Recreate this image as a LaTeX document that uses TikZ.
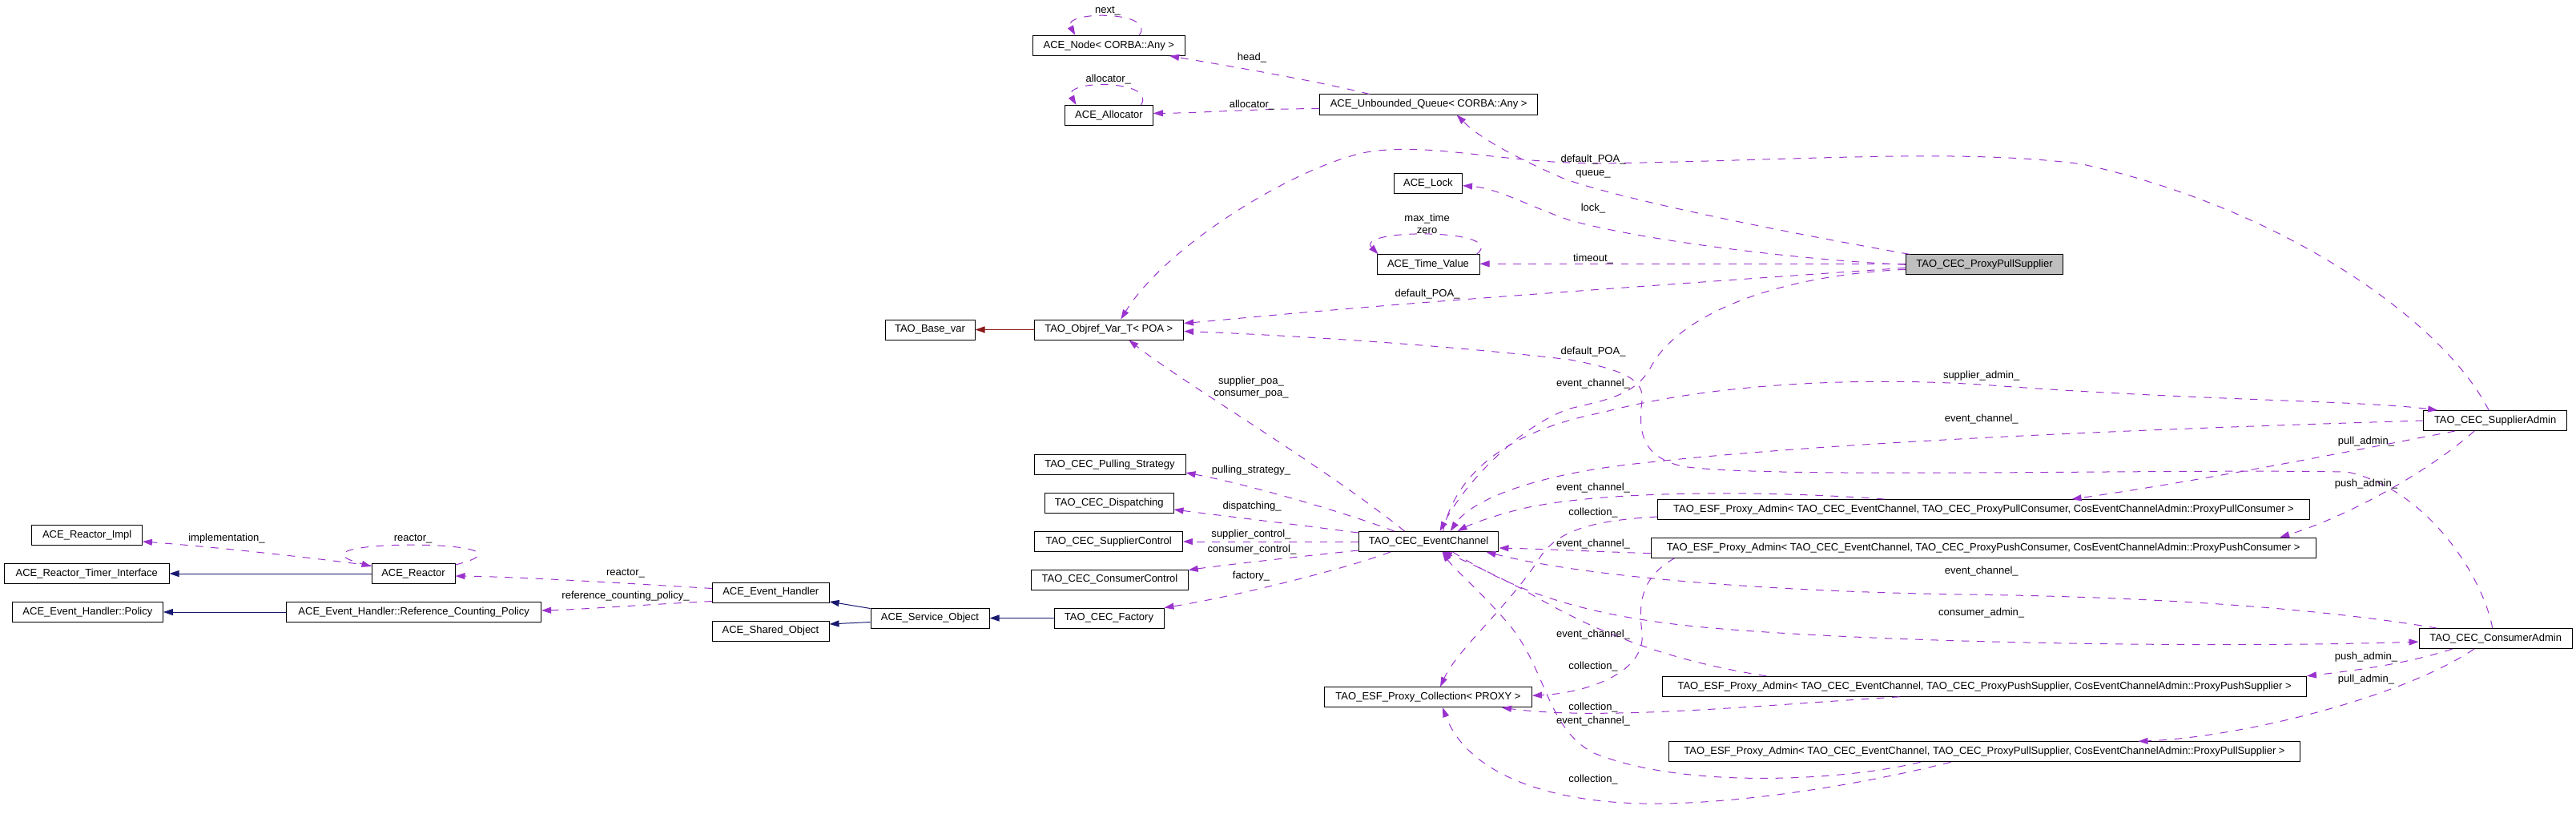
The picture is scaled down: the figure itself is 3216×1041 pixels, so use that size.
\documentclass[tikz,border=0pt]{standalone}
\usepackage{fontspec}
\setmainfont{Liberation Sans}
\usetikzlibrary{arrows.meta,calc}
\definecolor{usecol}{HTML}{9A32CD}
\definecolor{inhcol}{HTML}{191970}
\definecolor{tplcol}{HTML}{8B1A1A}
\definecolor{grayfill}{HTML}{BFBFBF}
\newcommand{\lblfont}{\fontsize{9.25pt}{10.7pt}\selectfont}
\begin{document}
\begin{tikzpicture}[x=0.25mm,y=-0.25mm,
 box/.style={draw=black,line width=0.25mm,minimum height=6.25mm,inner sep=0pt,text height=2.35mm,text depth=0.65mm,font=\lblfont},
 bw/.style={minimum width=#1*0.25mm},
 lab/.style={inner sep=0pt,text height=2.35mm,text depth=0.65mm,font=\lblfont},
 lab2/.style={inner sep=0pt,align=center,font=\lblfont},
 usage/.style={draw=usecol,line width=0.25mm,dash pattern=on 2.4mm off 2.4mm,-{Triangle[length=3mm,width=2mm]}},
 inh/.style={draw=inhcol,line width=0.25mm,-{Triangle[length=3mm,width=2mm]}},
 tpl/.style={draw=tplcol,line width=0.25mm,-{Triangle[length=3mm,width=2mm]}}]
\useasboundingbox (0,0) rectangle (3216,1041);
% nodes
\node[box,bw=190.6] (anynode) at (1384.3,56.8) {ACE\_Node< CORBA::Any >};
\node[box,bw=109.7] (alloc) at (1384.5,143.9) {ACE\_Allocator};
\node[box,bw=272.5] (queue) at (1783.7,130.5) {ACE\_Unbounded\_Queue< CORBA::Any >};
\node[box,bw=85.5] (lock) at (1782.8,228.7) {ACE\_Lock};
\node[box,bw=128] (tv) at (1783,330.3) {ACE\_Time\_Value};
\node[box,bw=196.5,fill=grayfill] (pps) at (2477.5,330.3) {TAO\_CEC\_ProxyPullSupplier};
\node[box,bw=112] (basevar) at (1161,411.5) {TAO\_Base\_var};
\node[box,bw=186.6] (objref) at (1384.3,411.5) {TAO\_Objref\_Var\_T< POA >};
\node[box,bw=189] (pull) at (1385.5,580) {TAO\_CEC\_Pulling\_Strategy};
\node[box,bw=160.4] (disp) at (1384.8,628) {TAO\_CEC\_Dispatching};
\node[box,bw=184.5] (sctl) at (1384.2,676) {TAO\_CEC\_SupplierControl};
\node[box,bw=195.5] (cctl) at (1385.5,723.5) {TAO\_CEC\_ConsumerControl};
\node[box,bw=174.7] (ec) at (1783.6,676) {TAO\_CEC\_EventChannel};
\node[box,bw=137] (fac) at (1384.5,771.5) {TAO\_CEC\_Factory};
\node[box,bw=148] (so) at (1161,771.5) {ACE\_Service\_Object};
\node[box,bw=145.5] (eh) at (962.3,739.5) {ACE\_Event\_Handler};
\node[box,bw=146] (sho) at (962,787.5) {ACE\_Shared\_Object};
\node[box,bw=317.8] (rcp) at (516.7,764) {ACE\_Event\_Handler::Reference\_Counting\_Policy};
\node[box,bw=188] (policy) at (109.4,764) {ACE\_Event\_Handler::Policy};
\node[box,bw=104] (reactor) at (516,716) {ACE\_Reactor};
\node[box,bw=205.4] (rti) at (108.3,716) {ACE\_Reactor\_Timer\_Interface};
\node[box,bw=137.5] (rimpl) at (108.7,668) {ACE\_Reactor\_Impl};
\node[box,bw=258.9] (coll) at (1783,870.2) {TAO\_ESF\_Proxy\_Collection< PROXY >};
\node[box,bw=814.2] (apc) at (2476.5,636) {TAO\_ESF\_Proxy\_Admin< TAO\_CEC\_EventChannel, TAO\_CEC\_ProxyPullConsumer, CosEventChannelAdmin::ProxyPullConsumer >};
\node[box,bw=830.3] (aphc) at (2476.2,683.7) {TAO\_ESF\_Proxy\_Admin< TAO\_CEC\_EventChannel, TAO\_CEC\_ProxyPushConsumer, CosEventChannelAdmin::ProxyPushConsumer >};
\node[box,bw=803.7] (aps) at (2477.6,856.8) {TAO\_ESF\_Proxy\_Admin< TAO\_CEC\_EventChannel, TAO\_CEC\_ProxyPushSupplier, CosEventChannelAdmin::ProxyPushSupplier >};
\node[box,bw=788.3] (apls) at (2477.5,938.3) {TAO\_ESF\_Proxy\_Admin< TAO\_CEC\_EventChannel, TAO\_CEC\_ProxyPullSupplier, CosEventChannelAdmin::ProxyPullSupplier >};
\node[box,bw=179] (sa) at (3115.1,525) {TAO\_CEC\_SupplierAdmin};
\node[box,bw=191.4] (ca) at (3115.7,797.1) {TAO\_CEC\_ConsumerAdmin};
% self loops
\draw[usage] ($(anynode.north)+(38,0)$) .. controls (1445,13) and (1325,13) .. ($(anynode.north)+(-42,0)$);
\draw[usage] ($(alloc.north)+(40,0)$) .. controls (1445,99) and (1325,99) .. ($(alloc.north)+(-41,0)$);
\draw[usage] ($(tv.north east)+(-4,0)$) .. controls (1885,285) and (1690,285) .. ($(tv.north west)+(2,0)$);
\draw[usage] ($(reactor.north east)+(0,2)$) .. controls (700,672) and (335,672) .. ($(reactor.north west)+(0,4)$);
% queue
\draw[usage] ($(queue.north)+(-74,0)$) .. controls (1640,100) and (1520,80) .. ($(anynode.south east)+(-20,0)$);
\draw[usage] ($(queue.west)+(0,5)$) .. controls (1560,136) and (1500,141) .. ($(alloc.east)+(0,-2.5)$);
% proxy pull supplier
\draw[usage] ($(pps.north west)+(5,0)$) .. controls (2200,285) and (2010,245) .. (1950,222) .. controls (1900,200) and (1850,175) .. ($(queue.south)+(35,0)$);
\draw[usage] (pps.west) .. controls (2250,325) and (2050,300) .. (1960,275) .. controls (1910,258) and (1870,235) .. ($(lock.east)+(0,3)$);
\draw[usage] ($(pps.west)+(0,-1)$) -- ($(tv.east)+(0,-1)$);
\draw[usage] ($(pps.west)+(0,4)$) .. controls (2150,350) and (1800,375) .. (1700,384) .. controls (1600,392) and (1520,400) .. ($(objref.east)+(0,-8)$);
\draw[usage] ($(pps.west)+(0,6)$) .. controls (2200,345) and (2090,400) .. (2060,460) .. controls (2040,495) and (2000,500) .. (1960,510) .. controls (1900,530) and (1830,600) .. ($(ec.north)+(14,0)$);
% default_POA_ arcs
\draw[usage] ($(sa.north)+(-8,0)$) .. controls (3050,400) and (2850,260) .. (2600,205) .. controls (2450,185) and (2250,200) .. (2000,204) .. controls (1880,204) and (1800,180) .. (1720,188) .. controls (1640,195) and (1460,300) .. ($(objref.north)+(15,0)$);
\draw[usage] ($(ca.north)+(-4,0)$) .. controls (3100,720) and (3030,610) .. (2930,589) .. controls (2700,585) and (2200,598) .. (2100,582) .. controls (2050,570) and (2045,540) .. (2050,500) .. controls (2053,475) and (2030,462) .. (1960,449) .. controls (1800,430) and (1600,418) .. ($(objref.east)+(0,2)$);
% event channel
\draw[usage] ($(ec.north)+(-30,0)$) .. controls (1650,580) and (1480,480) .. ($(objref.south)+(25,0)$);
\draw[tpl] (objref.west) -- (basevar.east);
\draw[usage] ($(ec.north west)+(45,0)$) .. controls (1680,640) and (1560,605) .. ($(pull.east)+(0,10)$);
\draw[usage] ($(ec.north west)+(0,2)$) .. controls (1620,655) and (1520,643) .. ($(disp.east)+(0,8)$);
\draw[usage] (ec.west) -- (sctl.east);
\draw[usage] ($(ec.south west)+(0,-2)$) .. controls (1620,695) and (1530,705) .. ($(cctl.east)+(0,-12)$);
\draw[usage] ($(ec.south west)+(40,0)$) .. controls (1680,710) and (1540,745) .. (fac.north east);
% inheritance
\draw[inh] (fac.west) -- (so.east);
\draw[inh] ($(so.north west)+(0,1)$) -- ($(eh.east)+(0,11.5)$);
\draw[inh] ($(so.west)+(0,5)$) -- ($(sho.east)+(0,-8.5)$);
\draw[inh] (reactor.west) -- (rti.east);
\draw[inh] (rcp.west) -- (policy.east);
% event handler
\draw[usage] ($(eh.west)+(0,-5)$) .. controls (780,728) and (650,720) .. ($(reactor.east)+(0,3)$);
\draw[usage] ($(eh.west)+(0,11)$) .. controls (800,755) and (720,761) .. ($(rcp.east)+(0,-2)$);
\draw[usage] ($(reactor.north west)+(0,3)$) .. controls (380,695) and (260,682) .. ($(rimpl.east)+(0,8)$);
% admins
\draw[usage] ($(ec.north)+(18,0)$) .. controls (1815,600) and (1870,540) .. (2000,515) .. controls (2150,475) and (2350,470) .. (2500,482) .. controls (2750,500) and (2950,500) .. ($(sa.north west)+(18,0)$);
\draw[usage] (sa.west) .. controls (2700,535) and (2300,550) .. (2050,578) .. controls (1930,590) and (1840,620) .. ($(ec.north)+(27,0)$);
\draw[usage] ($(apc.north)+(-124,0)$) .. controls (2200,612) and (2000,612) .. (1900,635) .. controls (1860,645) and (1835,655) .. ($(ec.north)+(36,0)$);
\draw[usage] ($(sa.south west)+(40,0)$) .. controls (2950,560) and (2750,600) .. ($(apc.north)+(110,0)$);
\draw[usage] ($(sa.south)+(-26,0)$) .. controls (3030,590) and (2930,645) .. ($(aphc.north)+(370,0)$);
\draw[usage] ($(apc.west)+(0,9)$) .. controls (1980,650) and (1940,665) .. (1920,700) .. controls (1880,760) and (1820,810) .. ($(coll.north)+(15,0)$);
\draw[usage] ($(aphc.west)+(0,7)$) .. controls (1980,688) and (1920,685) .. ($(ec.east)+(0,8)$);
\draw[usage] ($(aphc.south west)+(30,0)$) .. controls (2050,720) and (2045,750) .. (2050,790) .. controls (2055,840) and (1980,865) .. ($(coll.east)+(0,-2)$);
\draw[usage] ($(ca.north west)+(23,0)$) .. controls (2900,760) and (2700,745) .. (2450,742) .. controls (2200,738) and (1980,720) .. ($(ec.south east)+(-16,0)$);
\draw[usage] ($(ec.south)+(30,0)$) .. controls (1880,730) and (1960,770) .. (2150,785) .. controls (2400,805) and (2800,808) .. ($(ca.west)+(0,4)$);
\draw[usage] ($(ca.south west)+(42,0)$) .. controls (3000,830) and (2930,838) .. (aps.north east);
\draw[usage] ($(ca.south)+(-27,0)$) .. controls (3000,870) and (2800,920) .. ($(apls.north)+(192,0)$);
\draw[usage] ($(aps.north west)+(130,0)$) .. controls (2050,820) and (1960,770) .. (1900,735) .. controls (1860,715) and (1830,700) .. ($(ec.south)+(17,0)$);
\draw[usage] ($(apls.south)+(-80,0)$) .. controls (2300,975) and (2100,985) .. (1990,940) .. controls (1930,910) and (1930,830) .. (1880,775) .. controls (1850,740) and (1815,710) .. ($(ec.south)+(17,0)$);
\draw[usage] ($(aps.south)+(-106,0)$) .. controls (2200,880) and (2000,900) .. ($(coll.south east)+(-38,0)$);
\draw[usage] ($(apls.south)+(-42,0)$) .. controls (2300,985) and (2150,1005) .. (2050,1003) .. controls (1920,1000) and (1830,960) .. ($(coll.south)+(18,0)$);
% labels
\node[lab] (l1) at (1383,12.7) {next\_};
\node[lab] (l2) at (1383.7,99.3) {allocator\_};
\node[lab] (l3) at (1563,72.3) {head\_};
\node[lab] (l4) at (1563,130.7) {allocator\_};
\node[lab] (l5) at (1989,199) {default\_POA\_};
\node[lab] (l6) at (1989,215.7) {queue\_};
\node[lab] (l7) at (1989,260.3) {lock\_};
\node[lab2] (l8) at (1781.6,279.2) {max\_time\\zero};
\node[lab] (l9) at (1989,322.7) {timeout\_};
\node[lab] (l10) at (1782,367) {default\_POA\_};
\node[lab] (l11) at (1989,439) {default\_POA\_};
\node[lab] (l12) at (1989,478.7) {event\_channel\_};
\node[lab] (l13) at (2473.7,468.7) {supplier\_admin\_};
\node[lab2] (l14) at (1562,483.4) {supplier\_poa\_\\consumer\_poa\_};
\node[lab] (l15) at (2473.7,522.7) {event\_channel\_};
\node[lab] (l16) at (2954,550.8) {pull\_admin\_};
\node[lab] (l17) at (1562,587) {pulling\_strategy\_};
\node[lab] (l18) at (2954,604) {push\_admin\_};
\node[lab] (l19) at (1989,609) {event\_channel\_};
\node[lab] (l20) at (1563,631.7) {dispatching\_};
\node[lab] (l21) at (1989,640) {collection\_};
\node[lab] (l22) at (1562,666.7) {supplier\_control\_};
\node[lab] (l23) at (283,672) {implementation\_};
\node[lab] (l24) at (515.6,672) {reactor\_};
\node[lab] (l25) at (1989,679.3) {event\_channel\_};
\node[lab] (l26) at (1563,686.3) {consumer\_control\_};
\node[lab] (l27) at (2473.7,712.7) {event\_channel\_};
\node[lab] (l28) at (781,715) {reactor\_};
\node[lab] (l29) at (1562,718.7) {factory\_};
\node[lab] (l30) at (781,744) {reference\_counting\_policy\_};
\node[lab] (l31) at (2473.7,764.7) {consumer\_admin\_};
\node[lab] (l32) at (1989,791.7) {event\_channel\_};
\node[lab] (l33) at (2954,820) {push\_admin\_};
\node[lab] (l34) at (1989,831.7) {collection\_};
\node[lab] (l35) at (2954,848) {pull\_admin\_};
\node[lab] (l36) at (1989,882.7) {collection\_};
\node[lab] (l37) at (1989,900) {event\_channel\_};
\node[lab] (l38) at (1989,972.7) {collection\_};
\end{tikzpicture}
\end{document}
